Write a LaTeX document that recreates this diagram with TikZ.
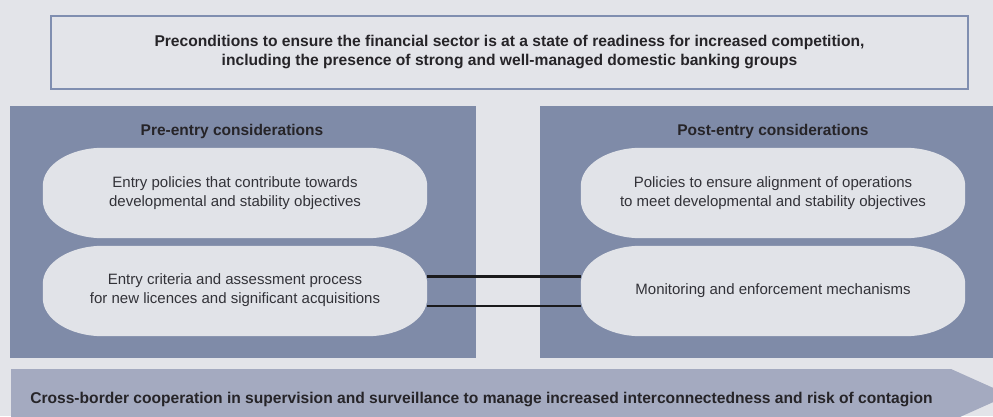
\documentclass[tikz,border=0pt]{standalone}
\usepackage{fontspec}
\setmainfont{Liberation Sans}

\definecolor{canvas}{RGB}{227,228,233}
\definecolor{panelblue}{RGB}{127,139,168}
\definecolor{pillgray}{RGB}{225,227,232}
\definecolor{frameblue}{RGB}{128,142,176}
\definecolor{bandblue}{RGB}{164,170,192}
\definecolor{inkdark}{RGB}{38,36,40}
\definecolor{inkbody}{RGB}{50,50,56}
\definecolor{linkdark}{RGB}{26,26,28}

\pgfdeclarelayer{bg}
\pgfdeclarelayer{mid}
\pgfsetlayers{bg,mid,main}

% Rounded pill outline with elliptical corners, laid around a named node
\newcommand\pillpath[1]{%
  \fill[pillgray]
    ([xshift=60pt]#1.north west) -- ([xshift=-60pt]#1.north east)
    arc[start angle=90,end angle=0,x radius=60pt,y radius=38pt]
    -- ([yshift=38pt]#1.south east)
    arc[start angle=0,end angle=-90,x radius=60pt,y radius=38pt]
    -- ([xshift=60pt]#1.south west)
    arc[start angle=270,end angle=180,x radius=60pt,y radius=38pt]
    -- ([yshift=-38pt]#1.north west)
    arc[start angle=180,end angle=90,x radius=60pt,y radius=38pt]
    -- cycle;}

\tikzset{
  titlebox/.style={draw=frameblue, line width=1.5pt, fill=canvas,
    minimum width=917pt, minimum height=73pt, inner sep=0pt,
    align=center, text=inkdark, font=\fontsize{15.6}{19}\selectfont\bfseries},
  panel/.style={fill=panelblue, inner sep=0pt},
  header/.style={anchor=base, inner sep=0pt, text=inkdark,
    font=\fontsize{15.5}{17}\selectfont\bfseries},
  pill/.style={minimum width=384pt, minimum height=90pt, inner sep=0pt,
    align=center, text=inkbody, font=\fontsize{15}{19.5}\selectfont},
  link/.style={draw=linkdark, line width=2.2pt},
  band/.style={fill=bandblue},
  bandtext/.style={anchor=base, inner sep=0pt, text=inkdark,
    font=\fontsize{15.6}{17}\selectfont\bfseries}
}

\begin{document}
\begin{tikzpicture}[x=1pt,y=1pt]
\useasboundingbox (0,0) rectangle (993,416);
\clip (0,0) rectangle (993,416);

% Preconditions box
\node[titlebox] (pre) at (509.5,363.5)
  {Preconditions to ensure the financial sector is at a state of readiness for increased competition,\\
   including the presence of strong and well-managed domestic banking groups};

% Canvas and the two consideration panels
\begin{pgfonlayer}{bg}
  \fill[canvas] (0,0) rectangle (993,416);
  \node[panel, minimum width=466pt, minimum height=252pt] (leftpanel) at (243,184) {};
  \node[panel, minimum width=453pt, minimum height=252pt] (rightpanel) at (766.5,184) {};
\end{pgfonlayer}

\node[header] (prehead) at (232,281) {Pre-entry considerations};
\node[header] (posthead) at (773,281) {Post-entry considerations};

% Items inside the panels
\node[pill] (lt) at (235,223) {Entry policies that contribute towards\\developmental and stability objectives};
\node[pill] (lb) at (235,125) {Entry criteria and assessment process\\for new licences and significant acquisitions\\[-14.5pt]\mbox{}};
\node[pill] (rt) at (773,223) {Policies to ensure alignment of operations\\to meet developmental and stability objectives};
\node[pill] (rb) at (773,125) {Monitoring and enforcement mechanisms};

\begin{pgfonlayer}{mid}
  \foreach \n in {lt,lb,rt,rb} {\pillpath{\n}}
\end{pgfonlayer}

% Links between licensing and monitoring
\draw[link] ([yshift=14.5pt]lb.east) -- ([yshift=14.5pt]rb.west);
\draw[link] ([yshift=-15pt]lb.east) -- ([yshift=-15pt]rb.west);

% Cross-border cooperation band
\coordinate (bandtip) at (1009,21);
\fill[band] (11,47) -- (951,47) -- (bandtip) -- (951,-5) -- (11,-5) -- cycle;
\node[bandtext] (cross) at (481.5,12.7)
  {Cross-border cooperation in supervision and surveillance to manage increased interconnectedness and risk of contagion};
\end{tikzpicture}
\end{document}
